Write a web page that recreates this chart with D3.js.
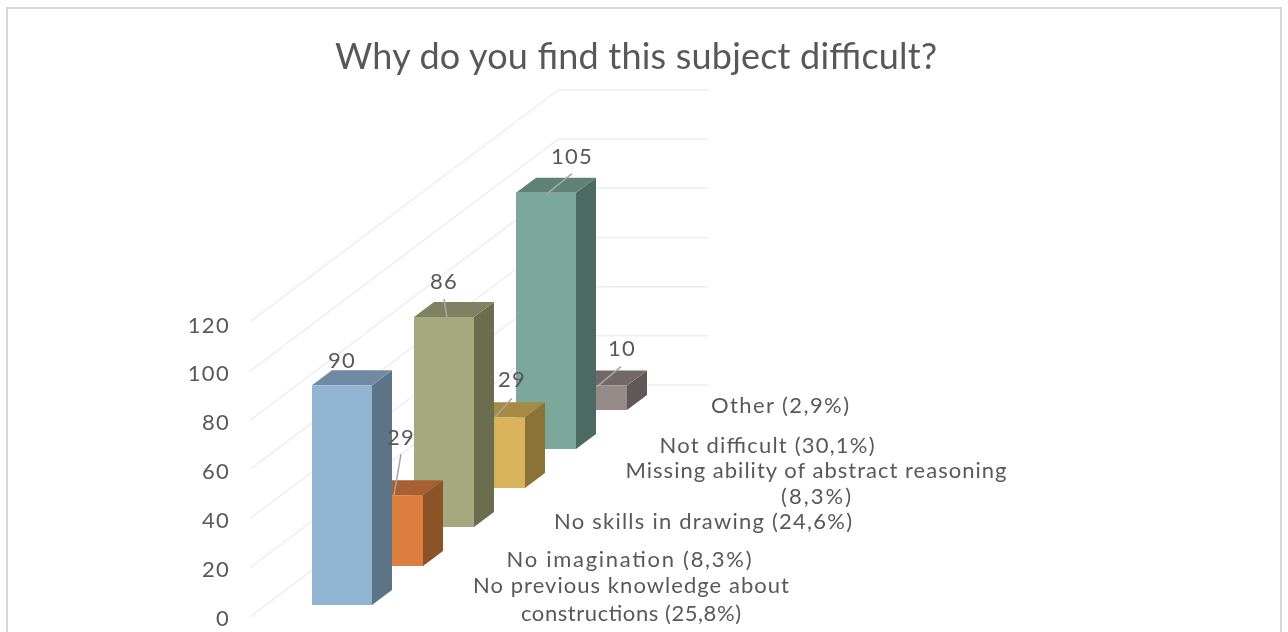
<!DOCTYPE html>
<html><head><meta charset="utf-8">
<script src="https://cdn.jsdelivr.net/npm/d3@7"></script>
<style>html,body{margin:0;padding:0;background:#fff;overflow:hidden}svg{display:block}text{font-family:Lato,sans-serif;fill:#595959}</style>
</head><body><svg id="c" width="1288" height="632"></svg>
<script>
const titleText = "Why do you find this subject difficult?";
const categories = ["No previous knowledge about constructions (25,8%)","No imagination (8,3%)","No skills in drawing (24,6%)","Missing ability of abstract reasoning (8,3%)","Not difficult (30,1%)","Other (2,9%)"];
const values = [90,29,86,29,105,10];
const tickValues = [0,20,40,60,80,100,120];
const frontColors = ["#92b4d3","#dc7e40","#a4a97f","#d9b25c","#7ba79b","#958b89"];
const sideColors  = ["#5d7388","#8c5228","#6a6e50","#8b7338","#4e6a62","#5f5957"];
const topColors   = ["#6f8aa3","#a86030","#7e8262","#a68a44","#5f8276","#716967"];
const categoryLines = [["No previous knowledge about","constructions (25,8%)"],["No imagination (8,3%)"],["No skills in drawing (24,6%)"],["Missing ability of abstract reasoning","(8,3%)"],["Not difficult (30,1%)"],["Other (2,9%)"]];

const svg = d3.select("#c");
const defs = svg.append("defs");
defs.append("filter").attr("id","soft").attr("x",0).attr("y",0).attr("width","100%").attr("height","100%")
  .attr("filterUnits","userSpaceOnUse")
  .append("feGaussianBlur").attr("stdDeviation",0.45);
const root = svg.append("g").attr("filter","url(#soft)");
root.append("rect").attr("x",0).attr("y",0).attr("width",1288).attr("height",632).attr("fill","#fff");
root.append("rect").attr("x",7).attr("y",8).attr("width",1274).attr("height",640).attr("fill","#fff").attr("stroke","#d9d9d9").attr("stroke-width",2);
root.append("text").attr("x",636).attr("y",69).attr("text-anchor","middle").attr("font-size",36).attr("textLength",602).attr("lengthAdjust","spacing").text(titleText);

const y = d3.scaleLinear().domain([0,120]).range([617,324]);
const u = v => y(0)-y(v);
const depthX = d3.scaleLinear().domain([0,1]).range([250,558]);
const depthY = d3.scaleLinear().domain([0,1]).range([0,-232]);
const gridEnd = 708;
const g = root.append("g");
tickValues.forEach(t=>{
  const y0=y(t)-2*(t/120);
  g.append("polyline").attr("fill","none").attr("stroke","#eeeeee").attr("stroke-width",1.5)
   .attr("points",[[depthX(0),y0],[depthX(1),y0+depthY(1)],[gridEnd,y0+depthY(1)]].join(" "));
});

const axis = d3.axisLeft(y).tickValues(tickValues).tickSize(0).tickPadding(0);
const ax = root.append("g").attr("transform","translate(230,1)").call(axis);
ax.select(".domain").remove();
ax.selectAll("text").attr("font-size",22).attr("letter-spacing",1.3).style("font-family","Lato,sans-serif").attr("fill","#595959");

const idx = categories.map((_,i)=>i);
const bx = d3.scaleLinear().domain([0,5]).range([312,567]);
const by = d3.scaleLinear().domain([0,5]).range([605,410]);
const barW=60, dx=20, dy=-15;
const bars = root.append("g");
idx.slice().reverse().forEach(i=>{
  const x0=bx(i), yb=by(i), yt=yb-u(values[i]);
  bars.append("polygon").attr("fill",sideColors[i]).attr("points",[[x0+barW,yt],[x0+barW+dx,yt+dy],[x0+barW+dx,yb+dy],[x0+barW,yb]].join(" "));
  bars.append("polygon").attr("fill",topColors[i]).attr("points",[[x0,yt],[x0+dx,yt+dy],[x0+barW+dx,yt+dy],[x0+barW,yt]].join(" "));
  bars.append("rect").attr("x",x0).attr("y",yt).attr("width",barW).attr("height",u(values[i])).attr("fill",frontColors[i]);
});

const labelOffsets=[[30,-17],[38,-50],[30,-28],[47,-30],[56,-29],[55,-30]];
const leaderOffsets=[null,[[38,-41],[31,0]],[[30,-18],[33,1]],[[47,-19],[29,1]],[[56,-19],[30,2]],[[54,-19],[30,1]]];
const labels=root.append("g");
idx.forEach(i=>{
  const x0=bx(i), yt=by(i)-u(values[i]);
  if(leaderOffsets[i]) labels.append("line").attr("stroke","#a6a6a6").attr("stroke-width",1.5)
    .attr("x1",x0+leaderOffsets[i][0][0]).attr("y1",yt+leaderOffsets[i][0][1]).attr("x2",x0+leaderOffsets[i][1][0]).attr("y2",yt+leaderOffsets[i][1][1]);
  labels.append("text").attr("x",x0+labelOffsets[i][0]).attr("y",yt+labelOffsets[i][1]).attr("text-anchor","middle").attr("font-size",22).attr("letter-spacing",1.3).text(values[i]);
});

const catPos=[[631,593],[629,567],[703,529],[816,478],[767,453],[780,413]];
const lineGap=[28,0,0,26,0,0];
const lineWidths=[[316,220],[245],[298],[381,70],[215],[138]];
idx.forEach(i=>{
  categoryLines[i].forEach((s,k)=>{
    root.append("text").attr("x",catPos[i][0]).attr("y",catPos[i][1]+k*lineGap[i]).attr("text-anchor","middle").attr("font-size",22)
      .attr("textLength",lineWidths[i][k]).attr("lengthAdjust","spacing").text(s);
  });
});
</script></body></html>
